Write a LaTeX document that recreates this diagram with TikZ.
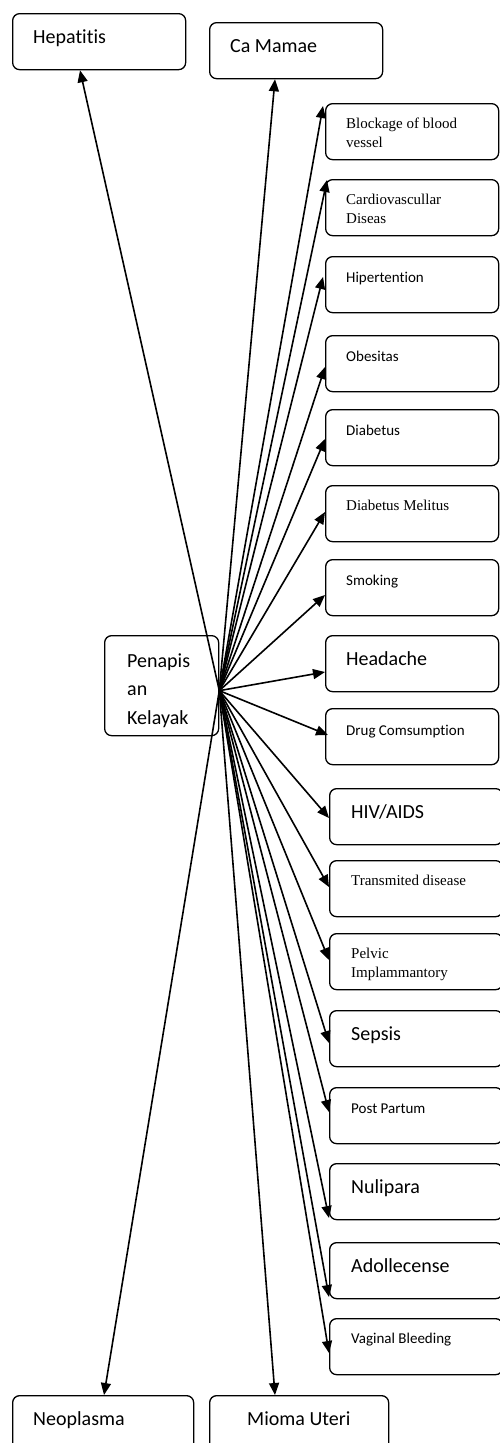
\documentclass[tikz,border=0pt]{standalone}
\usepackage{fontspec}
\setmainfont{Carlito}[Ligatures=NoCommon]
\newfontfamily\tms{Liberation Serif}
\usetikzlibrary{arrows.meta}

\tikzset{
  kotak/.style={draw,rounded corners=7pt,line width=1.3pt,minimum width=173pt,minimum height=56pt,inner sep=0pt,anchor=north west},
  isi/.style={anchor=base west,inner sep=0pt,align=left,xshift=21pt},
  besar/.style={font=\fontsize{20}{28.5}\selectfont,yshift=-30pt},
  kecil/.style={font=\fontsize{15}{20}\selectfont,yshift=-26pt},
  serif/.style={font=\tms\fontsize{15}{19.5}\selectfont,yshift=-25pt},
  panah/.style={line width=1.6pt,-{Triangle[length=12pt,width=10pt]}}
}
% kotak: nama, pojok kiri atas, lebar, gaya teks, isi
\def\kotak#1#2#3#4#5{
  \node[kotak,minimum width=#3] (#1) at (#2) {};
  \node[isi,#4] (#1-t) at (#1.north west) {#5};
}

\begin{document}
\begin{tikzpicture}[x=1pt,y=-1pt]
  \useasboundingbox (0,0) rectangle (500,1443);
  % kotak atas dan bawah
  \kotak{hep}{12,13}{173pt}{besar}{Hepatitis}
  \kotak{mamae}{209,22}{173pt}{besar}{Ca Mamae}
  \kotak{neo}{12,1395}{181pt}{besar}{Neoplasma}
  \kotak{mioma}{209,1395}{179pt}{besar,xshift=17pt}{Mioma Uteri}
  % kotak pusat
  \node[kotak,minimum width=114pt,minimum height=100pt] (pk) at (104,635) {};
  \node[isi,besar,xshift=2pt,yshift=-59pt] (pk-t) at (pk.north west) {Penapis\\an\\Kelayak};
  \coordinate (pusat) at ([shift={(0,5)}]pk.east);
  % kolom kanan
  \kotak{blok}{325,103}{173pt}{serif,yshift=-19.5pt}{Blockage of blood\\vessel}
  \kotak{kardio}{325,179}{173pt}{serif,yshift=-19.5pt}{Cardiovascullar\\Diseas}
  \kotak{hiper}{325,256}{173pt}{kecil}{Hipertention}
  \kotak{obes}{325,335}{173pt}{kecil}{Obesitas}
  \kotak{diab}{325,409}{173pt}{kecil}{Diabetus}
  \kotak{dm}{325,485}{173pt}{serif}{Diabetus Melitus}
  \kotak{rokok}{325,559}{173pt}{kecil}{Smoking}
  \kotak{pusing}{325,635}{173pt}{besar}{Headache}
  \kotak{obat}{325,708}{173pt}{kecil,yshift=-1pt}{Drug Comsumption}
  \kotak{hiv}{329,788}{173pt}{besar,xshift=1pt}{HIV/AIDS}
  \kotak{menular}{329,860}{173pt}{serif,xshift=1pt}{Transmited disease}
  \kotak{pelvik}{329,933}{173pt}{serif,xshift=1pt,yshift=-19.5pt}{Pelvic\\Implammantory}
  \kotak{sepsis}{329,1010}{173pt}{besar,xshift=1pt}{Sepsis}
  \kotak{nifas}{329,1087}{173pt}{kecil,xshift=1pt}{Post Partum}
  \kotak{nuli}{329,1163}{173pt}{besar,xshift=1pt}{Nulipara}
  \kotak{remaja}{329,1242}{173pt}{besar,xshift=1pt}{Adollecense}
  \kotak{vagina}{329,1318}{173pt}{kecil,xshift=1pt,yshift=1pt}{Vaginal Bleeding}
  % panah dari pusat
  \draw[panah] (pusat) -- ([shift={(68,0)}]hep.south west);
  \draw[panah] (pusat) -- ([shift={(66,0)}]mamae.south west);
  \draw[panah] (pusat) -- ([shift={(-2,3)}]blok.north west);
  \draw[panah] (pusat) -- ([shift={(2,1)}]kardio.north west);
  \draw[panah] (pusat) -- ([shift={(-2,21)}]hiper.north west);
  \draw[panah] (pusat) -- ([shift={(0,32)}]obes.north west);
  \draw[panah] (pusat) -- ([shift={(0,30)}]diab.north west);
  \draw[panah] (pusat) -- ([shift={(0,27)}]dm.north west);
  \draw[panah] (pusat) -- ([shift={(0,36)}]rokok.north west);
  \draw[panah] (pusat) -- ([shift={(0,37)}]pusing.north west);
  \draw[panah] (pusat) -- ([shift={(3,27)}]obat.north west);
  \draw[panah] (pusat) -- ([shift={(0,30)}]hiv.north west);
  \draw[panah] (pusat) -- ([shift={(0,27)}]menular.north west);
  \draw[panah] (pusat) -- ([shift={(0,27)}]pelvik.north west);
  \draw[panah] (pusat) -- ([shift={(0,33)}]sepsis.north west);
  \draw[panah] (pusat) -- ([shift={(0,25)}]nifas.north west);
  \draw[panah] (pusat) -- ([shift={(0,55)}]nuli.north west);
  \draw[panah] (pusat) -- ([shift={(0,55)}]remaja.north west);
  \draw[panah] (pusat) -- ([shift={(0,35)}]vagina.north west);
  \draw[panah] (pusat) -- ([shift={(92,0)}]neo.north west);
  \draw[panah] (pusat) -- ([shift={(66,0)}]mioma.north west);
\end{tikzpicture}
\end{document}
